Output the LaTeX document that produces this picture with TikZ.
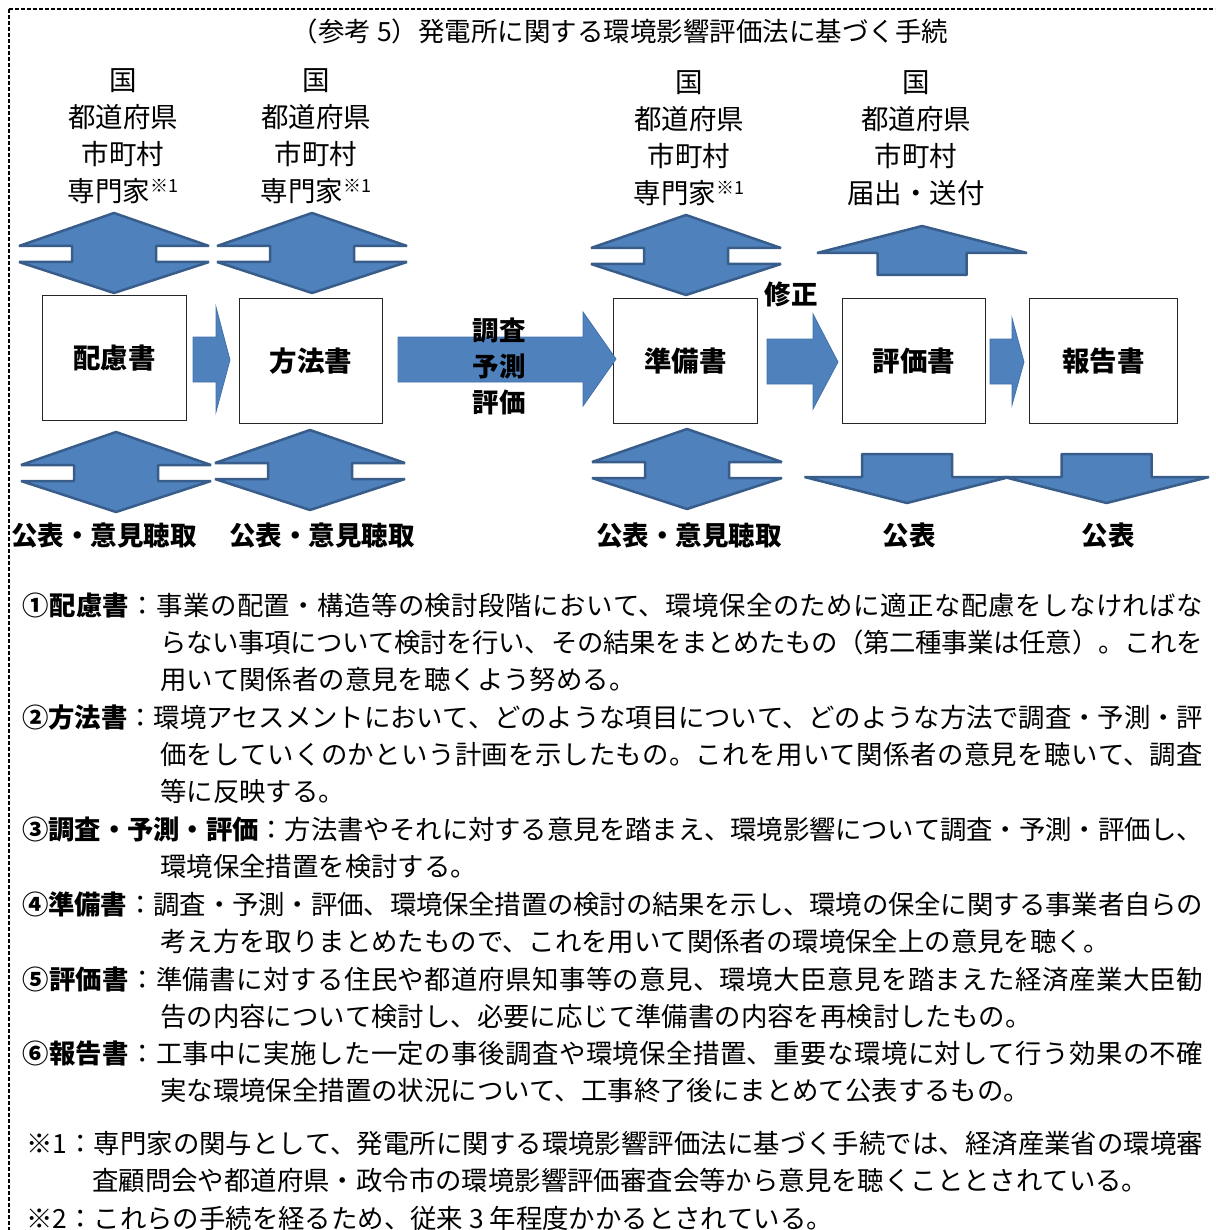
\documentclass[tikz,border=0pt]{standalone}
\usepackage{fontspec}
\setmainfont{Noto Sans CJK JP}
\definecolor{afill}{RGB}{79,129,189}
\definecolor{aline}{RGB}{56,93,138}
\definecolor{aline2}{RGB}{65,113,170}
\newcommand\sone{\raisebox{9pt}{\fontsize{18}{18}\selectfont ※1}}
\newcommand\jpbody{\fontsize{26.4}{37.3}\selectfont\XeTeXlinebreaklocale "ja"\XeTeXlinebreakskip=0pt plus 3pt minus 1.2pt\XeTeXlinebreakpenalty=10000\relax}
\tikzset{
  blk/.style={fill=afill, draw=aline, line width=2.5pt, line join=bevel},
  rarr/.style={fill=afill, draw=aline2, line width=0.8pt},
  docbox/.style={draw=black!85, fill=white, line width=1pt, minimum width=144pt, minimum height=125pt, inner sep=0pt, anchor=north west, font=\fontsize{27.5}{30}\selectfont\bfseries},
  toplbl/.style={align=center, inner sep=0pt, font=\fontsize{27.5}{37}\selectfont},
  boldlbl/.style={inner sep=0pt, font=\fontsize{26.5}{30}\selectfont\bfseries},
  para/.style={anchor=base west, inner sep=0pt, text width=#1, align=justify, font=\fontsize{26.4}{37.3}\selectfont},
  dashline/.style={line width=1.1pt, dash pattern=on 4pt off 2pt},
  dbl/.pic={\path[blk] (0,0) -- (95,33) -- (42,33) -- (42,49) -- (95,49) -- (0,80) -- (-95,49) -- (-42,49) -- (-42,33) -- (-95,33) -- cycle;},
  downarr/.pic={\path[blk] (-45,0) -- (45,0) -- (45,23) -- (102.5,23) -- (0,49) -- (-102.5,23) -- (-45,23) -- cycle;},
  uparr/.pic={\path[blk] (0,0) -- (105,27) -- (44.5,27) -- (44.5,49) -- (-44.5,49) -- (-44.5,27) -- (-105,27) -- cycle;}
}
\begin{document}
\begin{tikzpicture}[x=1pt,y=-1pt]
\useasboundingbox (0,0) rectangle (1215,1230);
% frame
\draw[dashline] (9,9) -- (1215,9);
\draw[dashline] (9,9) -- (9,1230);
% title
\node[inner sep=0pt, font=\fontsize{26.5}{30}\selectfont] (title) at (620,31) {（参考 5）発電所に関する環境影響評価法に基づく手続};
% top labels
\node[toplbl] (t1) at (123,136.5) {国\\都道府県\\市町村\\専門家\sone};
\node[toplbl] (t2) at (316,136.5) {国\\都道府県\\市町村\\専門家\sone};
\node[toplbl] (t3) at (689,138.5) {国\\都道府県\\市町村\\専門家\sone};
\node[toplbl] (t4) at (916,138.5) {国\\都道府県\\市町村\\届出・送付};
% boxes
\node[docbox] (b1) at (42,295) {配慮書};
\node[docbox, minimum width=143pt] (b2) at (239,298) {方法書};
\node[docbox] (b3) at (613,298) {準備書};
\node[docbox, minimum width=143pt] (b4) at (842,298) {評価書};
\node[docbox, minimum width=148pt] (b5) at (1029,298) {報告書};
% double arrows
\pic at (114,213) {dbl};
\pic at (312,213) {dbl};
\pic at (686,215) {dbl};
\pic at (116,432) {dbl};
\pic at (310,430) {dbl};
\pic at (687,429) {dbl};
\pic at (922,226) {uparr};
\pic at (907,454) {downarr};
\pic at (1106.5,454) {downarr};
% right arrows
\path[rarr] (193,337) -- (216,337) -- (216,307) -- (230,360) -- (216,412) -- (216,382) -- (193,382) -- cycle;
\path[rarr] (398,337) -- (583,337) -- (583,312) -- (616,359) -- (583,406) -- (583,382) -- (398,382) -- cycle;
\path[rarr] (767,339) -- (813,339) -- (813,314) -- (838,362) -- (813,409) -- (813,384) -- (767,384) -- cycle;
\path[rarr] (990,339) -- (1012,339) -- (1012,318) -- (1024,362) -- (1012,405) -- (1012,384) -- (990,384) -- cycle;
% arrow labels
\node[boldlbl, align=center, font=\fontsize{26.5}{36}\selectfont\bfseries] (chosa) at (499,366) {調査\\予測\\評価};
\node[boldlbl] (shusei) at (791,294) {修正};
% bottom labels
\node[boldlbl, anchor=base] (k1) at (104,545) {公表・意見聴取};
\node[boldlbl, anchor=base] (k2) at (322,545) {公表・意見聴取};
\node[boldlbl, anchor=base] (k3) at (689,545) {公表・意見聴取};
\node[boldlbl, anchor=base] (k4) at (909,545) {公表};
\node[boldlbl, anchor=base] (k5) at (1108,545) {公表};
% descriptions
\node[para=1181pt] (p1) at (22,615) {\jpbody\hangindent=138pt\hangafter=1 {\bfseries ①配慮書}：事業の配置・構造等の検討段階において、環境保全のために適正な配慮をしなければな\linebreak らない事項について検討を行い、その結果をまとめたもの（第二種事業は任意）。これを\linebreak 用いて関係者の意見を聴くよう努める。\par};
\node[para=1181pt] (p2) at (22,727) {\jpbody\hangindent=138pt\hangafter=1 {\bfseries ②方法書}：環境アセスメントにおいて、どのような項目について、どのような方法で調査・予測・評\linebreak 価をしていくのかという計画を示したもの。これを用いて関係者の意見を聴いて、調査\linebreak 等に反映する。\par};
\node[para=1181pt] (p3) at (22,839) {\jpbody\hangindent=138pt\hangafter=1 {\bfseries ③調査・予測・評価}：方法書やそれに対する意見を踏まえ、環境影響について調査・予測・評価し、\linebreak 環境保全措置を検討する。\par};
\node[para=1181pt] (p4) at (22,914) {\jpbody\hangindent=138pt\hangafter=1 {\bfseries ④準備書}：調査・予測・評価、環境保全措置の検討の結果を示し、環境の保全に関する事業者自らの\linebreak 考え方を取りまとめたもので、これを用いて関係者の環境保全上の意見を聴く。\par};
\node[para=1181pt] (p5) at (22,989) {\jpbody\hangindent=138pt\hangafter=1 {\bfseries ⑤評価書}：準備書に対する住民や都道府県知事等の意見、環境大臣意見を踏まえた経済産業大臣勧\linebreak 告の内容について検討し、必要に応じて準備書の内容を再検討したもの。\par};
\node[para=1181pt] (p6) at (22,1063) {\jpbody\hangindent=138pt\hangafter=1 {\bfseries ⑥報告書}：工事中に実施した一定の事後調査や環境保全措置、重要な環境に対して行う効果の不確\linebreak 実な環境保全措置の状況について、工事終了後にまとめて公表するもの。\par};
\node[para=1177pt] (n1) at (26,1153) {\jpbody\hangindent=66pt\hangafter=1 ※1：専門家の関与として、発電所に関する環境影響評価法に基づく手続では、経済産業省の環境審\linebreak 査顧問会や都道府県・政令市の環境影響評価審査会等から意見を聴くこととされている。\par};
\node[para=1177pt] (n2) at (26,1228) {\jpbody ※2：これらの手続を経るため、従来 3 年程度かかるとされている。\par};
\end{tikzpicture}
\end{document}
